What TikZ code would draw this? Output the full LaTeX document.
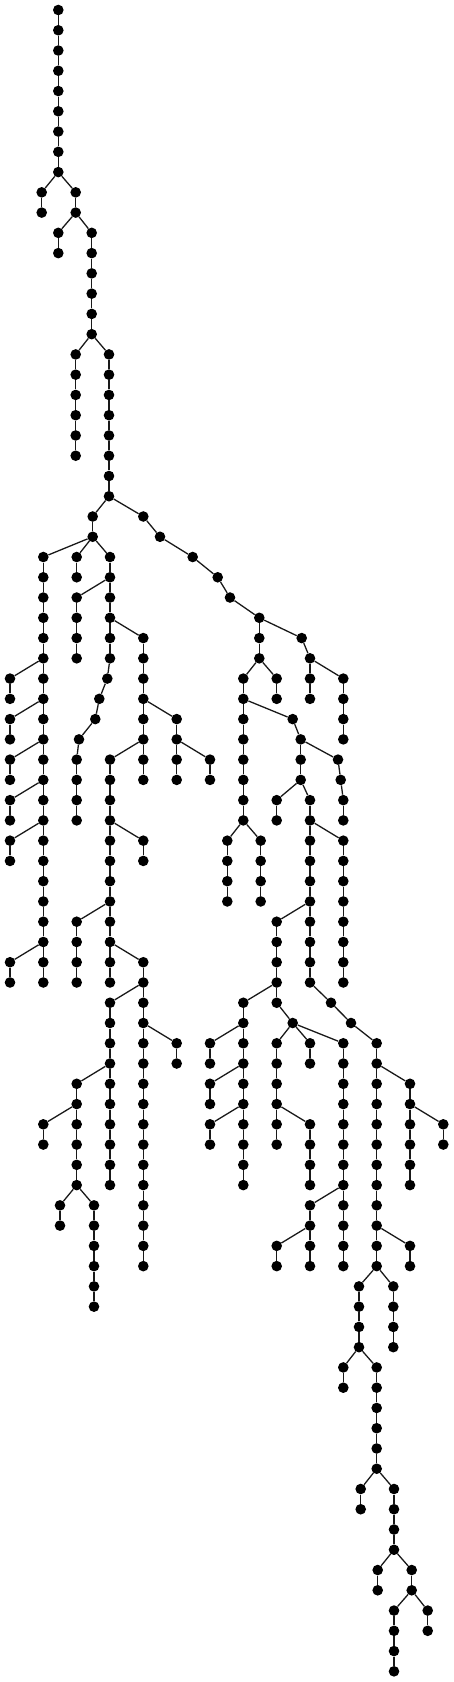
\documentclass[tikz,border=0pt]{standalone}
\tikzset{
  dot/.style={circle, fill=black, draw=none, inner sep=0pt, minimum size=10.6pt},
  edge/.style={line width=1.3pt, draw=black!90}
}
\newcommand\chain[4]{%
  \foreach \r in {#3,...,#4}{\node[dot] (#1-\r) at (#2,\r) {};}%
  \ifnum#3<#4\relax
    \pgfmathtruncatemacro\chainnext{#3+1}%
    \foreach \r [remember=\r as \q (initially #3)] in {\chainnext,...,#4}{\draw[edge] (#1-\q) -- (#1-\r);}%
  \fi}
\begin{document}
\begin{tikzpicture}[x=1pt, y=-20.26pt]
\useasboundingbox (0,-0.4936) rectangle (454,82.527);
% left / top part
\chain{t}{58.3}{0}{8}
\chain{a}{41.7}{9}{10}
\chain{b}{75.7}{9}{10}
\chain{c}{58.3}{11}{12}
\chain{d}{91.7}{11}{16}
\chain{e}{75.7}{17}{22}
\chain{f}{109}{17}{24}
\chain{g}{92.7}{25}{26}
\node[dot] (r1) at (143.3,25) {};
\node[dot] (r2) at (160,26) {};
\node[dot] (r3) at (192.7,27) {};
\node[dot] (r4) at (217.7,28) {};
\node[dot] (r5) at (230,29) {};
\chain{R}{259.3}{30}{32}
\chain{L}{43.3}{27}{48}
\chain{pa}{10}{33}{34}
\chain{pb}{10}{35}{36}
\chain{pc}{10}{37}{38}
\chain{pd}{10}{39}{40}
\chain{pe}{10}{41}{42}
\chain{pf}{10}{47}{48}
\chain{m}{76.7}{27}{28}
\chain{n}{110}{27}{32}
\chain{o}{76.7}{29}{32}
\node[dot] (s1) at (107.3,33) {};
\node[dot] (s2) at (99.3,34) {};
\node[dot] (s3) at (95.3,35) {};
\node[dot] (s4) at (79,36) {};
\chain{q}{76.7}{37}{40}
\chain{u}{143.3}{31}{38}
\chain{v}{176.7}{35}{38}
\chain{w}{210}{37}{38}
\chain{xa}{110}{37}{48}
\chain{ya}{143.3}{41}{42}
\chain{za}{76.7}{45}{48}
\chain{aa}{143.3}{47}{62}
\chain{ab}{176.7}{51}{52}
\chain{ac}{110}{49}{58}
\chain{ad}{76.7}{53}{58}
\chain{ae}{43.3}{55}{56}
\chain{af}{60}{59}{60}
\chain{ag}{94}{59}{64}
% right part
\node[dot] (ra) at (301.7,31) {};
\chain{rb}{310}{32}{34}
\chain{rc}{243.3}{33}{40}
\chain{rd}{276.7}{33}{34}
\chain{re}{343.3}{33}{36}
\node[dot] (sA) at (292.7,35) {};
\chain{rf}{300.7}{36}{38}
\node[dot] (sC) at (338,37) {};
\node[dot] (sD) at (340.7,38) {};
\chain{rg}{343.3}{39}{40}
\chain{rh}{276.7}{39}{40}
\chain{ri}{310}{39}{48}
\chain{rj}{343.3}{41}{48}
\chain{rk}{227.3}{41}{44}
\chain{rl}{260.7}{41}{44}
\chain{rm}{276.7}{45}{48}
\chain{rn}{243.3}{49}{58}
\node[dot] (ro) at (276.7,49) {};
\node[dot] (rp) at (292.7,50) {};
\chain{rq}{276.7}{51}{56}
\chain{rr}{310}{51}{52}
\chain{rs}{343.3}{51}{62}
\chain{rt}{210}{51}{52}
\chain{ru}{210}{53}{54}
\chain{rv}{210}{55}{56}
\chain{rw}{310}{55}{58}
\chain{rx}{310}{59}{62}
\chain{ry}{276.7}{61}{62}
\node[dot] (sE) at (331,49) {};
\node[dot] (sF) at (351,50) {};
\chain{rz}{376.7}{51}{62}
\chain{qa}{410}{53}{58}
\chain{qb}{443.3}{55}{56}
\chain{qc}{410}{61}{62}
\chain{qd}{359}{63}{66}
\chain{qe}{393.3}{63}{66}
\chain{qf}{343.3}{67}{68}
\chain{qg}{376.7}{67}{72}
\chain{qh}{360.7}{73}{74}
\chain{qi}{394}{73}{76}
\chain{qj}{377.7}{77}{78}
\chain{qk}{411.7}{77}{78}
\chain{ql}{394}{79}{82}
\chain{qm}{427.7}{79}{80}
% branch edges
\foreach \u/\v in {t-8/a-9, t-8/b-9, b-10/c-11, b-10/d-11, d-16/e-17, d-16/f-17,
  f-24/g-25, f-24/r1, r1/r2, r2/r3, r3/r4, r4/r5, r5/R-30,
  g-26/L-27, g-26/m-27, g-26/n-27,
  L-32/pa-33, L-34/pb-35, L-36/pc-37, L-38/pd-39, L-40/pe-41, L-46/pf-47,
  n-28/o-29, n-32/s1, s1/s2, s2/s3, s3/s4, s4/q-37,
  n-30/u-31, u-34/v-35, v-36/w-37, u-36/xa-37, xa-40/ya-41, xa-44/za-45,
  xa-46/aa-47, aa-50/ab-51, aa-48/ac-49, ac-52/ad-53, ad-54/ae-55,
  ad-58/af-59, ad-58/ag-59,
  R-30/ra, ra/rb-32, R-32/rc-33, R-32/rd-33, rb-32/re-33,
  rc-34/sA, sA/rf-36, rf-36/sC, sC/sD, sD/rg-39, rf-38/rh-39, rf-38/ri-39,
  ri-40/rj-41, rc-40/rk-41, rc-40/rl-41, ri-44/rm-45,
  rm-48/rn-49, rm-48/ro, ro/rp, rp/rq-51, rp/rr-51, rp/rs-51,
  rn-50/rt-51, rn-52/ru-53, rn-54/rv-55, rq-54/rw-55,
  rs-58/rx-59, rx-60/ry-61,
  ri-48/sE, sE/sF, sF/rz-51, rz-52/qa-53, qa-54/qb-55, rz-60/qc-61,
  rz-62/qd-63, rz-62/qe-63, qd-66/qf-67, qd-66/qg-67,
  qg-72/qh-73, qg-72/qi-73, qi-76/qj-77, qi-76/qk-77, qk-78/ql-79, qk-78/qm-79}
  {\draw[edge] (\u) -- (\v);}
\end{tikzpicture}
\end{document}
